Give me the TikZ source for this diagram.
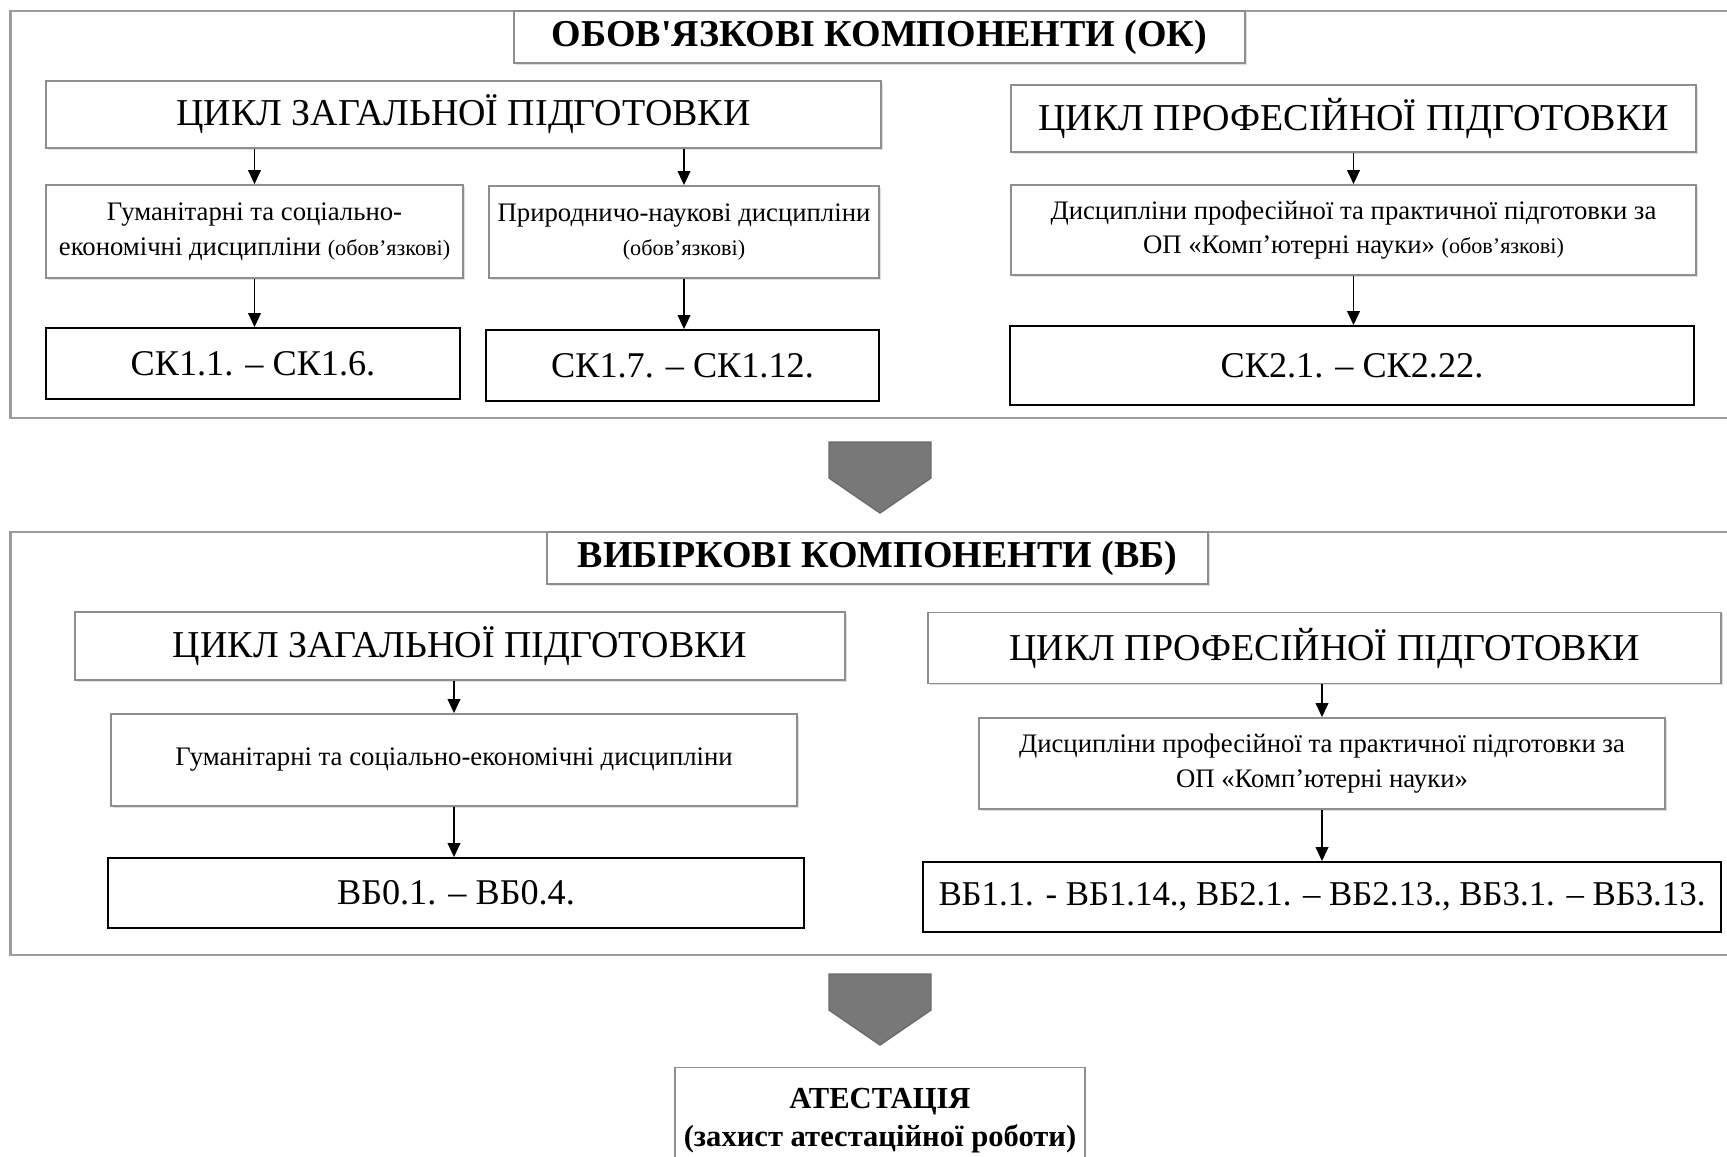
\documentclass[tikz,border=0pt]{standalone}
\usepackage{fontspec}
\setmainfont{Liberation Serif}
\usetikzlibrary{arrows.meta,shapes,positioning,shadows}

\definecolor{framegray}{HTML}{9C9C9C}
\definecolor{boxgray}{HTML}{8E8E8E}
\definecolor{chevrongray}{HTML}{787878}
\newcommand{\obovnote}{{\fontsize{6.3}{9}\selectfont (обов’язкові)}}

\begin{document}
\begin{tikzpicture}[x=0.01cm, y=-0.01cm, >={Triangle[length=4pt,width=3.6pt]},
    outerframe/.style={rectangle, draw=framegray, line width=0.6pt, inner sep=0pt},
    softshadow/.style={drop shadow={shadow xshift=0.5pt, shadow yshift=-0.5pt, opacity=0.25, fill=gray}},
    titlebox/.style={rectangle, draw=boxgray, line width=0.5pt, fill=white, inner sep=0pt, softshadow, font=\fontsize{10.8}{13}\selectfont\bfseries},
    cyclebox/.style={rectangle, draw=boxgray, line width=0.5pt, fill=white, inner sep=0pt, softshadow, font=\fontsize{10.8}{13}\selectfont},
    discbox/.style={rectangle, draw=boxgray, line width=0.5pt, fill=white, inner sep=0pt, softshadow, align=center, font=\fontsize{7.6}{9.8}\selectfont},
    resbox/.style={rectangle, draw=black, line width=0.5pt, fill=white, inner sep=0pt, font=\fontsize{10.3}{12}\selectfont},
    link/.style={->, line width=0.5pt}]
  \useasboundingbox (0,0) rectangle (1727,1156);

  % obligatory components
  \node[outerframe, minimum width=17.30cm, minimum height=4.07cm] (frameOK) at (876,214.5) {};
  \node[titlebox, minimum width=7.31cm, minimum height=0.52cm] (titleOK) at (879.5,37) {ОБОВ\textquotesingle ЯЗКОВІ КОМПОНЕНТИ (ОК)};
  \node[cyclebox, minimum width=8.35cm, minimum height=0.67cm] (genOK) at (463.5,114.5) {ЦИКЛ ЗАГАЛЬНОЇ ПІДГОТОВКИ};
  \node[cyclebox, minimum width=6.85cm, minimum height=0.67cm] (profOK) at (1353.5,118.5) {ЦИКЛ ПРОФЕСІЙНОЇ ПІДГОТОВКИ};
  \node[discbox, minimum width=4.17cm, minimum height=0.93cm] (humOK) at (254.5,231.5) {Гуманітарні та соціально-\\економічні дисципліни \obovnote};
  \node[discbox, minimum width=3.90cm, minimum height=0.92cm] (natOK) at (684,232) {Природничо-наукові дисципліни\\\obovnote};
  \node[discbox, minimum width=6.85cm, minimum height=0.90cm] (profdiscOK) at (1353.5,230) {Дисципліни професійної та практичної підготовки за\\ОП «Комп’ютерні науки» \obovnote};
  \node[resbox, minimum width=4.14cm, minimum height=0.71cm] (skA) at (253,363.5) {СК1.1. – СК1.6.};
  \node[resbox, minimum width=3.93cm, minimum height=0.71cm] (skB) at (682.5,365.5) {СК1.7. – СК1.12.};
  \node[resbox, minimum width=6.84cm, minimum height=0.79cm] (skC) at (1352,365.5) {СК2.1. – СК2.22.};

  \draw[link] (humOK.north |- genOK.south) -- (humOK.north);
  \draw[link] (natOK.north |- genOK.south) -- (natOK.north);
  \draw[link] (profdiscOK.north |- profOK.south) -- (profdiscOK.north);
  \draw[link] (humOK.south) -- (humOK.south |- skA.north);
  \draw[link] (natOK.south) -- (natOK.south |- skB.north);
  \draw[link] (profdiscOK.south) -- (profdiscOK.south |- skC.north);

  % elective components
  \node[outerframe, minimum width=17.30cm, minimum height=4.23cm] (frameVB) at (876,743.5) {};
  \node[titlebox, minimum width=6.61cm, minimum height=0.52cm] (titleVB) at (877.5,558) {ВИБІРКОВІ КОМПОНЕНТИ (ВБ)};
  \node[cyclebox, minimum width=7.70cm, minimum height=0.68cm] (genVB) at (460,646) {ЦИКЛ ЗАГАЛЬНОЇ ПІДГОТОВКИ};
  \node[cyclebox, minimum width=7.93cm, minimum height=0.71cm] (profVB) at (1324.5,648) {ЦИКЛ ПРОФЕСІЙНОЇ ПІДГОТОВКИ};
  \node[discbox, minimum width=6.86cm, minimum height=0.92cm] (humVB) at (454,760) {Гуманітарні та соціально-економічні дисципліни};
  \node[discbox, minimum width=6.86cm, minimum height=0.91cm] (profdiscVB) at (1322,763.5) {Дисципліни професійної та практичної підготовки за\\ОП «Комп’ютерні науки»};
  \node[resbox, minimum width=6.96cm, minimum height=0.70cm] (vbA) at (456,893) {ВБ0.1. – ВБ0.4.};
  \node[resbox, minimum width=7.98cm, minimum height=0.70cm, font=\fontsize{9.9}{12}\selectfont] (vbB) at (1322,897) {ВБ1.1. - ВБ1.14., ВБ2.1. – ВБ2.13., ВБ3.1. – ВБ3.13.};

  \draw[link] (humVB.north |- genVB.south) -- (humVB.north);
  \draw[link] (profdiscVB.north |- profVB.south) -- (profdiscVB.north);
  \draw[link] (humVB.south) -- (humVB.south |- vbA.north);
  \draw[link] (profdiscVB.south) -- (profdiscVB.south |- vbB.north);

  % final attestation
  \node[rectangle, draw=boxgray, line width=0.5pt, fill=white, inner sep=0pt, align=center,
        minimum width=4.10cm, minimum height=1.07cm, font=\fontsize{8.7}{10.8}\selectfont\bfseries]
        (attest) at (880,1121) {АТЕСТАЦІЯ\\(захист атестаційної роботи)};

  % grey chevrons between the blocks
  \foreach \ytop in {442,974}
    \filldraw[fill=chevrongray, draw=chevrongray!90!black, line width=0.4pt]
      (829,\ytop) -- ++(102,0) -- ++(0,36) -- ++(-51,35) -- ++(-51,-35) -- cycle;
\end{tikzpicture}
\end{document}
